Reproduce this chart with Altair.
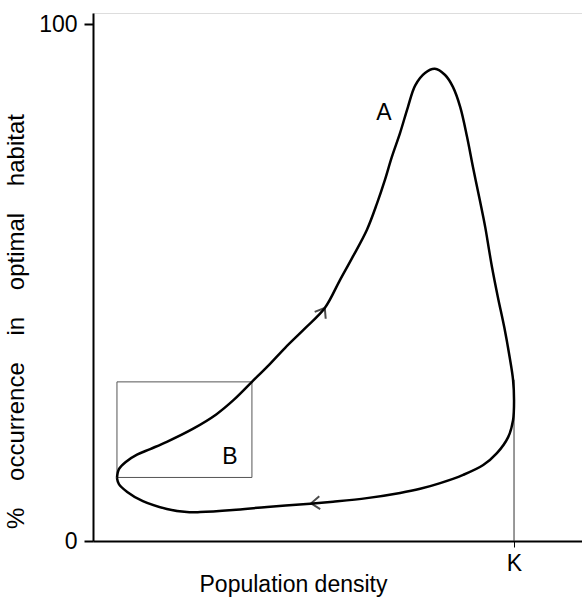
import altair as alt
import pandas as pd

# Loop curve (density, % occurrence), in drawing order
curve_x = [4.9, 5.3, 6.7, 9.0, 11.7, 15.1, 20.4, 25.2, 29.0, 32.5, 35.8, 39.3, 43.4, 47.4, 50.5,
           53.0, 56.0, 58.1, 59.7, 61.1, 62.8, 64.4, 65.9, 67.9, 69.9, 72.0, 73.6, 75.1, 76.5,
           77.7, 79.1, 80.2, 81.0, 81.6, 82.8, 84.1, 85.2, 85.9, 86.1, 85.9, 84.9, 82.6, 79.8,
           75.7, 71.0, 66.9, 62.8, 56.0, 49.1, 44.4, 35.6, 28.6, 21.9, 19.2, 15.1, 10.2, 7.0,
           5.3, 4.9]
curve_y = [12.2, 13.9, 15.3, 16.7, 17.8, 19.2, 21.7, 24.5, 27.5, 30.8, 33.9, 37.4, 41.2, 45.1, 50.5,
           54.8, 60.2, 65.4, 69.9, 74.3, 79.0, 84.0, 88.2, 90.6, 91.4, 90.2, 87.9, 84.0, 78.2,
           72.4, 66.0, 60.8, 56.3, 53.0, 47.2, 41.4, 35.6, 31.2, 27.3, 23.4, 20.1, 17.0, 14.7,
           12.8, 11.2, 10.1, 9.3, 8.3, 7.6, 7.2, 6.6, 6.0, 5.6, 5.6, 6.2, 7.7, 9.5,
           11.0, 12.2]

# direction arrows on the loop
arrow_x = [47.4, 44.6]
arrow_y = [45.1, 7.3]
arrow_angle = [302, 176]

# box B
box_x = [4.9]
box_x2 = [32.5]
box_y = [12.3]
box_y2 = [30.8]

# labels
label_text = ["A", "B"]
label_x = [59.5, 28.0]
label_y = [82.9, 16.3]

K = 86.1
k_top = [31.2]
y_ticks = [0, 100]

FONT = "Liberation Sans"
FS = 23

curve = pd.DataFrame({"x": curve_x, "y": curve_y, "i": list(range(len(curve_x)))})
arrows = pd.DataFrame({"x": arrow_x, "y": arrow_y, "a": arrow_angle})
box = pd.DataFrame({"x": box_x, "x2": box_x2, "y": box_y, "y2": box_y2})
labels = pd.DataFrame({"t": label_text, "x": label_x, "y": label_y})
kline = pd.DataFrame({"x": [K], "y": [0.0], "y2": k_top})

xs = alt.Scale(domain=[0, 100], nice=False, zero=False)
ys = alt.Scale(domain=[0, 102.2], nice=False, zero=False)

ytitle = "\u00a0\u00a0\u00a0\u00a0".join(["%", "occurrence", "in", "optimal", "habitat"])

xaxis = alt.Axis(values=[K], labelExpr="'K'", tickSize=6, tickWidth=1, tickColor="black",
                 domainWidth=2, domainColor="black", labelFontSize=FS, labelFont=FONT,
                 labelColor="black", labelPadding=5, grid=False,
                 title="Population density", titleFontSize=FS, titleFont=FONT,
                 titleFontWeight="normal", titleColor="black",
                 titleX=200, titleY=50, titleAlign="center", titleBaseline="alphabetic")
yaxis = alt.Axis(values=y_ticks, tickSize=9, tickWidth=2, tickColor="black",
                 domainWidth=2, domainColor="black", labelFontSize=FS, labelFont=FONT,
                 labelColor="black", labelPadding=7, grid=False,
                 title=ytitle, titleFontSize=24, titleFont=FONT, titleFontWeight="normal",
                 titleColor="black", titleAngle=270, titleX=-65, titleY=308,
                 titleAlign="center", titleBaseline="bottom")

line = alt.Chart(curve).mark_line(color="black", strokeWidth=2.5, interpolate="catmull-rom").encode(
    x=alt.X("x:Q", scale=xs, axis=xaxis),
    y=alt.Y("y:Q", scale=ys, axis=yaxis),
    order="i:Q",
)

arrow = alt.Chart(arrows).mark_point(
    shape="M -1 -0.75 L 0 0 L -1 0.75", filled=False, color="black", strokeWidth=2, size=300
).encode(x=alt.X("x:Q", scale=xs), y=alt.Y("y:Q", scale=ys), angle=alt.Angle("a:Q", scale=None))

rect = alt.Chart(box).mark_rect(fill=None, stroke="#555555", strokeWidth=1).encode(
    x=alt.X("x:Q", scale=xs), x2="x2:Q", y=alt.Y("y:Q", scale=ys), y2="y2:Q"
)

krule = alt.Chart(kline).mark_rule(color="#333333", strokeWidth=1).encode(
    x=alt.X("x:Q", scale=xs), y=alt.Y("y:Q", scale=ys), y2="y2:Q"
)

text = alt.Chart(labels).mark_text(font=FONT, fontSize=FS, color="black").encode(
    x=alt.X("x:Q", scale=xs), y=alt.Y("y:Q", scale=ys), text="t:N"
)

chart = alt.layer(rect, krule, line, arrow, text).properties(
    width=489, height=528,
    autosize=alt.AutoSizeParams(type="none"),
    padding={"left": 93, "top": 13, "right": 0, "bottom": 58},
).configure_view(stroke=None).configure(background="white")

chart.save("out.html", embed_options={"renderer": "svg", "actions": False})
